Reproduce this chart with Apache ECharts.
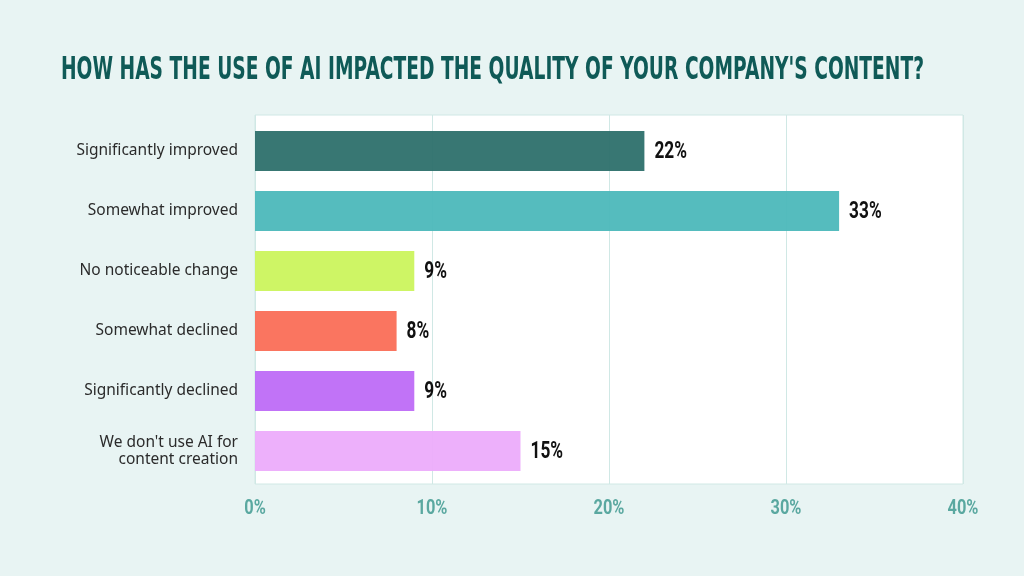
<!DOCTYPE html>
<html>
<head>
<meta charset="utf-8">
<script src="https://cdn.jsdelivr.net/npm/echarts@6/dist/echarts.min.js"></script>
<style>
  html, body {margin: 0; padding: 0; background: #e8f4f3;}
  #chart {width: 1024px; height: 576px;}
</style>
</head>
<body>
<div id="chart"></div>
<script>
const titleText = "HOW HAS THE USE OF AI IMPACTED THE QUALITY OF YOUR COMPANY'S CONTENT?";
const categories = [
  "Significantly improved",
  "Somewhat improved",
  "No noticeable change",
  "Somewhat declined",
  "Significantly declined",
  "We don't use AI for\ncontent creation",
];
const shares = [22, 33, 9, 8, 9, 15];
const barColors = ["#2d706c", "#4cb8ba", "#cbf45d", "#fa6e57", "#be6bf7", "#ecacfb"];
const xTickValues = [0, 10, 20, 30, 40];

// no condensed face is installed, so the narrow texts are squeezed horizontally
const numFont = "bold 23px Roboto";
const numSqueeze = 0.75;
const tickFont = "bold 21px Roboto";
const tickSqueeze = 0.78;

// title is squeezed to the width it takes in the reference
const titleFont = "bold 32px 'DejaVu Sans'";
const titleWidth = 863;
const ctx = document.createElement("canvas").getContext("2d");
ctx.font = titleFont;
const titleScale = titleWidth / ctx.measureText(titleText).width;

const chart = echarts.init(document.getElementById("chart"));

const option = {
  backgroundColor: "#e8f4f3",
  animation: false,
  graphic: [
    {
      type: "text",
      id: "title",
      x: 61,
      y: 71,
      scaleX: titleScale,
      style: {
        text: titleText,
        font: titleFont,
        fill: "#0f5a57",
        verticalAlign: "middle",
      },
    },
  ],
  grid: [
    // white panel with the gridlines
    {
      left: 255, width: 708, top: 115, height: 369,
      show: true,
      backgroundColor: "#ffffff",
      borderColor: "#d0e8e5",
      borderWidth: 1,
    },
    // bars
    {left: 255, width: 708, top: 121, height: 360},
  ],
  xAxis: [
    {
      gridIndex: 0,
      type: "value",
      min: 0,
      max: 40,
      interval: 10,
      axisLine: {show: false},
      axisTick: {show: false},
      axisLabel: {show: false},
      splitLine: {lineStyle: {color: "#d0e8e5", width: 1}},
    },
    {
      gridIndex: 1,
      type: "value",
      min: 0,
      max: 40,
      show: false,
    },
  ],
  yAxis: [
    {gridIndex: 0, type: "value", show: false},
    {
      gridIndex: 1,
      type: "category",
      inverse: true,
      data: categories,
      axisLine: {show: false},
      axisTick: {show: false},
      axisLabel: {
        margin: 17,
        color: "#2b2b2b",
        fontFamily: "'Noto Sans', sans-serif",
        fontSize: 15.5,
        lineHeight: 17,
        align: "right",
      },
    },
  ],
  series: [
    {
      type: "bar",
      xAxisIndex: 1,
      yAxisIndex: 1,
      barWidth: 40,
      data: shares.map((v, i) => ({
        value: v,
        itemStyle: {color: barColors[i], opacity: 0.95},
      })),
    },
    {
      // value labels at the bar ends
      type: "custom",
      xAxisIndex: 1,
      yAxisIndex: 1,
      data: shares.map((v, i) => [v, i]),
      encode: {x: 0, y: 1},
      renderItem: function(params, api) {
        const pt = api.coord([api.value(0), api.value(1)]);
        return {
          type: "text",
          x: pt[0] + 10,
          y: pt[1] + 1,
          scaleX: numSqueeze,
          style: {
            text: api.value(0) + "%",
            font: numFont,
            fill: "#111111",
            verticalAlign: "middle",
          },
        };
      },
    },
  ],
};

chart.setOption(option);

// x tick labels, placed with the axis scale
const tickLabels = xTickValues.map((v) => {
  const px = chart.convertToPixel({xAxisIndex: 0}, v);
  return {
    type: "text",
    x: px,
    y: 509,
    scaleX: tickSqueeze,
    style: {
      text: v + "%",
      font: tickFont,
      fill: "#5aa8a0",
      align: "center",
      verticalAlign: "middle",
    },
  };
});
chart.setOption({graphic: option.graphic.concat(tickLabels)});
</script>
</body>
</html>
